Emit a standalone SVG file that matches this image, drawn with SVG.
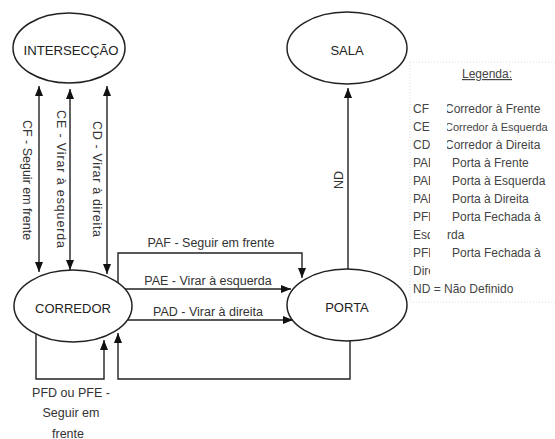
<svg xmlns="http://www.w3.org/2000/svg" width="555" height="439" viewBox="0 0 555 439">
  <style>
    .node ellipse { fill: #fff; stroke: #222; stroke-width: 1.5; }
    .nt { font-family: "Liberation Sans", Arial, sans-serif; font-size: 13px; fill: #222; text-anchor: middle; }
    .lbl { font-family: "Liberation Sans", Arial, sans-serif; font-size: 12.5px; fill: #333; text-anchor: middle; }
    .edge { fill: none; stroke: #222; stroke-width: 1.4; }
    .leg { font-family: "Liberation Sans", Arial, sans-serif; font-size: 12px; fill: #444; }
  </style>
  <defs>
    <marker id="ah" viewBox="0 0 10 8" refX="10" refY="4" markerWidth="10" markerHeight="8" markerUnits="userSpaceOnUse" orient="auto-start-reverse">
      <path d="M0,0 L10,4 L0,8 z" fill="#111"/>
    </marker>
    <clipPath id="c1"><rect x="405" y="95" width="25" height="190"/></clipPath>
  </defs>
  <rect width="555" height="439" fill="#fff"/>

  <g id="connectors">
    <path class="edge" d="M39,86 V272" marker-start="url(#ah)" marker-end="url(#ah)"/>
    <path class="edge" d="M70,89 V270" marker-start="url(#ah)" marker-end="url(#ah)"/>
    <path class="edge" d="M107,86 V274" marker-start="url(#ah)" marker-end="url(#ah)"/>
    <path class="edge" d="M118,283 V253 H302 V278" marker-end="url(#ah)"/>
    <path class="edge" d="M125,289 H291" marker-end="url(#ah)"/>
    <path class="edge" d="M128,320 H293" marker-end="url(#ah)"/>
    <path class="edge" d="M348,269 V88" marker-end="url(#ah)"/>
    <path class="edge" d="M350,341 V379 H118 V333" marker-end="url(#ah)"/>
    <path class="edge" d="M36,334 V379 H104 V340" marker-end="url(#ah)"/>
    <text class="lbl" transform="translate(27,180) rotate(90)" dy="4.5">CF - Seguir em frente</text>
    <text class="lbl" transform="translate(61,179) rotate(90)" dy="4.5" textLength="138" lengthAdjust="spacing">CE - Virar à esquerda</text>
    <text class="lbl" transform="translate(97,179) rotate(90)" dy="4.5" textLength="116" lengthAdjust="spacing">CD - Virar à direita</text>
    <text class="lbl" x="211" y="246.5">PAF - Seguir em frente</text>
    <text class="lbl" x="208" y="284.5">PAE - Virar à esquerda</text>
    <text class="lbl" x="208" y="315.5">PAD - Virar à direita</text>
    <text class="lbl" transform="translate(338,180) rotate(-90)" dy="4.5">ND</text>
    <text class="lbl" x="71" y="396.5">PFD ou PFE -</text>
    <text class="lbl" x="71" y="417">Seguir em</text>
    <text class="lbl" x="68" y="437.5">frente</text>
  </g>

  <g id="intersecao" class="node">
    <ellipse cx="69" cy="48" rx="56" ry="35"/>
    <text class="nt" x="71" y="55" textLength="95" lengthAdjust="spacingAndGlyphs">INTERSECÇÃO</text>
  </g>
  <g id="sala" class="node">
    <ellipse cx="347" cy="48" rx="60" ry="36"/>
    <text class="nt" x="347" y="55">SALA</text>
  </g>
  <g id="corredor" class="node">
    <ellipse cx="73" cy="306" rx="59" ry="36"/>
    <text class="nt" x="73" y="312.5">CORREDOR</text>
  </g>
  <g id="porta" class="node">
    <ellipse cx="347" cy="305" rx="60" ry="36"/>
    <text class="nt" x="347" y="311.5">PORTA</text>
  </g>

  <g id="legenda">
    <path d="M410,62 H555 M410,62 V302 H555" fill="none" stroke="#ddd" stroke-width="1" stroke-dasharray="1,2"/>
    <text class="leg" x="487" y="78" text-anchor="middle" text-decoration="underline">Legenda:</text>
    <g clip-path="url(#c1)">
      <text class="leg" x="413" y="112.5">CF</text>
      <text class="leg" x="413" y="130.5">CE</text>
      <text class="leg" x="413" y="148.5">CD</text>
      <text class="leg" x="413" y="166.5">PAF</text>
      <text class="leg" x="413" y="184.5">PAE</text>
      <text class="leg" x="413" y="202.5">PAD</text>
      <text class="leg" x="413" y="220.5">PFE</text>
      <text class="leg" x="413" y="256.5">PFD</text>
      <text class="leg" x="413" y="274.5">Direita</text>
    </g>
    <text class="leg" x="413" y="238.5">Esquerda</text>
    <rect x="430" y="226" width="17" height="16" fill="#fff"/>
    <text class="leg" x="445" y="112.5">Corredor à Frente</text>
    <text class="leg" x="445" y="130.5" style="font-size:11px">Corredor à Esquerda</text>
    <text class="leg" x="445" y="148.5">Corredor à Direita</text>
    <rect x="444" y="98" width="3" height="56" fill="#fff"/>
    <text class="leg" x="452" y="166.5">Porta à Frente</text>
    <text class="leg" x="452" y="184.5">Porta à Esquerda</text>
    <text class="leg" x="452" y="202.5">Porta à Direita</text>
    <text class="leg" x="452" y="220.5">Porta Fechada à</text>
    <text class="leg" x="452" y="256.5">Porta Fechada à</text>
    <text class="leg" x="413" y="292.5">ND = Não Definido</text>
  </g>
</svg>
